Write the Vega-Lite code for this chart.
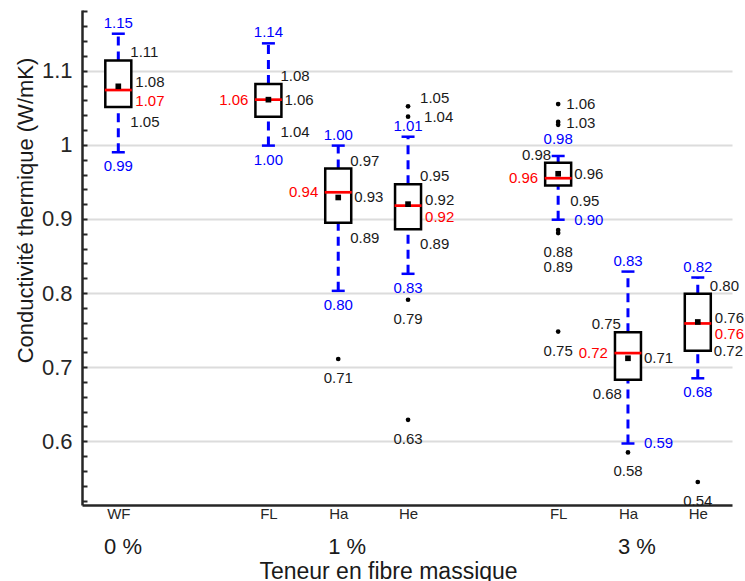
{
  "$schema": "https://vega.github.io/schema/vega-lite/v6.json",
  "width": 650,
  "height": 495,
  "autosize": {"type": "none"},
  "padding": {"left": 82, "top": 10, "right": 13, "bottom": 76},
  "background": "white",
  "config": {"font": "Liberation Sans", "view": {"stroke": null}},
  "datasets": {
    "boxes": [
      {"g": "WF", "pos": 1, "wmin": 0.990, "q1": 1.051, "med": 1.074, "mean": 1.079, "q3": 1.114, "wmax": 1.150},
      {"g": "FL 1%", "pos": 3.15, "wmin": 0.999, "q1": 1.038, "med": 1.061, "mean": 1.061, "q3": 1.082, "wmax": 1.137},
      {"g": "Ha 1%", "pos": 4.15, "wmin": 0.803, "q1": 0.895, "med": 0.936, "mean": 0.929, "q3": 0.968, "wmax": 0.999},
      {"g": "He 1%", "pos": 5.15, "wmin": 0.826, "q1": 0.886, "med": 0.918, "mean": 0.920, "q3": 0.947, "wmax": 1.011},
      {"g": "FL 3%", "pos": 7.3, "wmin": 0.899, "q1": 0.945, "med": 0.955, "mean": 0.961, "q3": 0.976, "wmax": 0.985},
      {"g": "Ha 3%", "pos": 8.3, "wmin": 0.597, "q1": 0.683, "med": 0.719, "mean": 0.712, "q3": 0.747, "wmax": 0.829},
      {"g": "He 3%", "pos": 9.3, "wmin": 0.685, "q1": 0.722, "med": 0.759, "mean": 0.761, "q3": 0.799, "wmax": 0.821}
    ],
    "outliers": [
      {"pos": 4.15, "v": 0.711},
      {"pos": 5.15, "v": 1.052},
      {"pos": 5.15, "v": 1.038},
      {"pos": 5.15, "v": 0.791},
      {"pos": 5.15, "v": 0.629},
      {"pos": 7.3, "v": 1.055},
      {"pos": 7.3, "v": 1.031},
      {"pos": 7.3, "v": 1.027},
      {"pos": 7.3, "v": 0.885},
      {"pos": 7.3, "v": 0.881},
      {"pos": 7.3, "v": 0.748},
      {"pos": 8.3, "v": 0.585},
      {"pos": 9.3, "v": 0.545}
    ],
    "labels": [
      {"pos": 1, "v": 1.150, "t": "1.15", "kind": "whisker", "place": "above"},
      {"pos": 1, "v": 1.114, "t": "1.11", "kind": "stat", "place": "rup"},
      {"pos": 1, "v": 1.079, "t": "1.08", "kind": "stat", "place": "rmidup"},
      {"pos": 1, "v": 1.074, "t": "1.07", "kind": "median", "place": "rdown"},
      {"pos": 1, "v": 1.051, "t": "1.05", "kind": "stat", "place": "rlow"},
      {"pos": 1, "v": 0.990, "t": "0.99", "kind": "whisker", "place": "below"},

      {"pos": 3.15, "v": 1.137, "t": "1.14", "kind": "whisker", "place": "above"},
      {"pos": 3.15, "v": 1.082, "t": "1.08", "kind": "stat", "place": "rup"},
      {"pos": 3.15, "v": 1.061, "t": "1.06", "kind": "stat", "place": "right"},
      {"pos": 3.15, "v": 1.061, "t": "1.06", "kind": "median", "place": "left"},
      {"pos": 3.15, "v": 1.038, "t": "1.04", "kind": "stat", "place": "rlow"},
      {"pos": 3.15, "v": 0.999, "t": "1.00", "kind": "whisker", "place": "below"},

      {"pos": 4.15, "v": 0.999, "t": "1.00", "kind": "whisker", "place": "above"},
      {"pos": 4.15, "v": 0.968, "t": "0.97", "kind": "stat", "place": "rup"},
      {"pos": 4.15, "v": 0.929, "t": "0.93", "kind": "stat", "place": "right"},
      {"pos": 4.15, "v": 0.936, "t": "0.94", "kind": "median", "place": "left"},
      {"pos": 4.15, "v": 0.895, "t": "0.89", "kind": "stat", "place": "rlow"},
      {"pos": 4.15, "v": 0.803, "t": "0.80", "kind": "whisker", "place": "below"},
      {"pos": 4.15, "v": 0.711, "t": "0.71", "kind": "stat", "place": "under"},

      {"pos": 5.15, "v": 1.052, "t": "1.05", "kind": "stat", "place": "rup"},
      {"pos": 5.15, "v": 1.038, "t": "1.04", "kind": "stat", "place": "right"},
      {"pos": 5.15, "v": 1.011, "t": "1.01", "kind": "whisker", "place": "above"},
      {"pos": 5.15, "v": 0.947, "t": "0.95", "kind": "stat", "place": "rup"},
      {"pos": 5.15, "v": 0.920, "t": "0.92", "kind": "stat", "place": "rmidup"},
      {"pos": 5.15, "v": 0.918, "t": "0.92", "kind": "median", "place": "rdown"},
      {"pos": 5.15, "v": 0.886, "t": "0.89", "kind": "stat", "place": "rlow"},
      {"pos": 5.15, "v": 0.826, "t": "0.83", "kind": "whisker", "place": "below"},
      {"pos": 5.15, "v": 0.791, "t": "0.79", "kind": "stat", "place": "under"},
      {"pos": 5.15, "v": 0.629, "t": "0.63", "kind": "stat", "place": "under"},

      {"pos": 7.3, "v": 1.055, "t": "1.06", "kind": "stat", "place": "oright"},
      {"pos": 7.3, "v": 1.029, "t": "1.03", "kind": "stat", "place": "oright"},
      {"pos": 7.3, "v": 0.985, "t": "0.98", "kind": "whisker", "place": "above2"},
      {"pos": 7.3, "v": 0.976, "t": "0.98", "kind": "stat", "place": "lup"},
      {"pos": 7.3, "v": 0.961, "t": "0.96", "kind": "stat", "place": "right"},
      {"pos": 7.3, "v": 0.955, "t": "0.96", "kind": "median", "place": "left"},
      {"pos": 7.3, "v": 0.945, "t": "0.95", "kind": "stat", "place": "rlow"},
      {"pos": 7.3, "v": 0.899, "t": "0.90", "kind": "whisker", "place": "right"},
      {"pos": 7.3, "v": 0.881, "t": "0.88", "kind": "stat", "place": "under"},
      {"pos": 7.3, "v": 0.885, "t": "0.89", "kind": "stat", "place": "under2"},
      {"pos": 7.3, "v": 0.748, "t": "0.75", "kind": "stat", "place": "under"},

      {"pos": 8.3, "v": 0.829, "t": "0.83", "kind": "whisker", "place": "above"},
      {"pos": 8.3, "v": 0.747, "t": "0.75", "kind": "stat", "place": "lup"},
      {"pos": 8.3, "v": 0.712, "t": "0.71", "kind": "stat", "place": "right"},
      {"pos": 8.3, "v": 0.719, "t": "0.72", "kind": "median", "place": "left"},
      {"pos": 8.3, "v": 0.683, "t": "0.68", "kind": "stat", "place": "llow"},
      {"pos": 8.3, "v": 0.597, "t": "0.59", "kind": "whisker", "place": "right"},
      {"pos": 8.3, "v": 0.585, "t": "0.58", "kind": "stat", "place": "under"},

      {"pos": 9.3, "v": 0.821, "t": "0.82", "kind": "whisker", "place": "above"},
      {"pos": 9.3, "v": 0.799, "t": "0.80", "kind": "stat", "place": "rup"},
      {"pos": 9.3, "v": 0.761, "t": "0.76", "kind": "stat", "place": "rmidup"},
      {"pos": 9.3, "v": 0.759, "t": "0.76", "kind": "median", "place": "rdown"},
      {"pos": 9.3, "v": 0.722, "t": "0.72", "kind": "stat", "place": "right"},
      {"pos": 9.3, "v": 0.685, "t": "0.68", "kind": "whisker", "place": "below"},
      {"pos": 9.3, "v": 0.545, "t": "0.54", "kind": "stat", "place": "under"}
    ]
  },
  "encoding": {
    "x": {"field": "pos", "type": "quantitative", "scale": {"domain": [0.48, 9.79], "nice": false, "zero": false, "padding": 0}, "axis": null}
  },
  "resolve": {"axis": {"x": "independent"}},
  "layer": [
    {
      "data": {"name": "boxes"},
      "mark": {"type": "rule", "color": "#0000ff", "strokeWidth": 3, "strokeDash": [9, 6], "opacity": 1},
      "encoding": {
        "y": {
          "field": "q3", "type": "quantitative",
          "title": "Conductivité thermique (W/mK)",
          "scale": {"domain": [0.514, 1.182], "nice": false, "zero": false, "padding": 0},
          "axis": {
            "values": [0.52,0.54,0.56,0.58,0.6,0.62,0.64,0.66,0.68,0.7,0.72,0.74,0.76,0.78,0.8,0.82,0.84,0.86,0.88,0.9,0.92,0.94,0.96,0.98,1,1.02,1.04,1.06,1.08,1.1,1.12,1.14,1.16,1.18],
            "tickCount": 100,
            "labelOverlap": false,
            "labelExpr": "abs(datum.value*10 - round(datum.value*10)) < 0.001 ? format(datum.value, '~g') : ''",
            "grid": true,
            "gridColor": "#dcdcdc",
            "gridWidth": 2,
            "gridOpacity": {"condition": {"test": "abs(datum.value*10 - round(datum.value*10)) < 0.001", "value": 1}, "value": 0},
            "tickSize": -5,
            "tickWidth": 2,
            "tickColor": "#262626",
            "domainColor": "#262626",
            "domainWidth": 2.5,
            "labelFontSize": 22,
            "labelColor": "#262626",
            "labelPadding": 15,
            "titleFontSize": 22,
            "titleFontWeight": "normal",
            "titleColor": "#1a1a1a",
            "titleY": 200
          }
        },
        "y2": {"field": "wmax"}
      }
    },
    {
      "data": {"name": "boxes"},
      "mark": {"type": "rule", "color": "#0000ff", "strokeWidth": 3, "strokeDash": [9, 6], "opacity": 1},
      "encoding": {
        "y": {"field": "wmin", "type": "quantitative", "title": "Conductivité thermique (W/mK)"},
        "y2": {"field": "q1"}
      }
    },
    {
      "data": {"name": "boxes"},
      "mark": {"type": "tick", "orient": "horizontal", "color": "#0000ff", "size": 13, "thickness": 2.5, "opacity": 1},
      "encoding": {"y": {"field": "wmax", "type": "quantitative", "title": "Conductivité thermique (W/mK)"}}
    },
    {
      "data": {"name": "boxes"},
      "mark": {"type": "tick", "orient": "horizontal", "color": "#0000ff", "size": 13, "thickness": 2.5, "opacity": 1},
      "encoding": {"y": {"field": "wmin", "type": "quantitative", "title": "Conductivité thermique (W/mK)"}}
    },
    {
      "data": {"name": "boxes"},
      "mark": {"type": "bar", "size": 26, "fill": "white", "stroke": "black", "strokeWidth": 2.5, "opacity": 1},
      "encoding": {
        "x": {
          "field": "pos", "type": "quantitative",
          "scale": {"domain": [0.48, 9.79], "nice": false, "zero": false, "padding": 0},
          "axis": {
            "orient": "bottom",
            "values": [1, 3.15, 4.15, 5.15, 7.3, 8.3, 9.3],
            "tickCount": 20,
            "labelOverlap": false,
            "labelExpr": "datum.value < 2 ? 'WF' : datum.value < 3.5 ? 'FL' : datum.value < 4.5 ? 'Ha' : datum.value < 6 ? 'He' : datum.value < 7.5 ? 'FL' : datum.value < 8.5 ? 'Ha' : 'He'",
            "ticks": false,
            "grid": false,
            "domainColor": "#262626",
            "domainWidth": 2.5,
            "labelFontSize": 15,
            "labelColor": "#262626",
            "labelPadding": 1,
            "title": null
          }
        },
        "y": {"field": "q1", "type": "quantitative", "title": "Conductivité thermique (W/mK)"},
        "y2": {"field": "q3"}
      }
    },
    {
      "data": {"name": "boxes"},
      "mark": {"type": "tick", "orient": "horizontal", "color": "#ff0000", "size": 27, "thickness": 2.7, "opacity": 1},
      "encoding": {"y": {"field": "med", "type": "quantitative", "title": "Conductivité thermique (W/mK)"}}
    },
    {
      "data": {"name": "boxes"},
      "mark": {"type": "point", "shape": "square", "filled": true, "color": "black", "size": 32, "opacity": 1},
      "encoding": {
        "x": {
          "field": "pos", "type": "quantitative",
          "scale": {"domain": [0.48, 9.79], "nice": false, "zero": false, "padding": 0},
          "axis": {
            "orient": "bottom",
            "values": [1.06, 4.27, 8.42],
            "labelOverlap": false,
            "labelExpr": "datum.value < 2 ? '0 %' : datum.value < 6 ? '1 %' : '3 %'",
            "ticks": false,
            "domain": false,
            "grid": false,
            "labelFontSize": 22,
            "labelColor": "#1a1a1a",
            "labelPadding": 31,
            "title": "Teneur en fibre massique",
            "titleFontSize": 23,
            "titleFontWeight": "normal",
            "titleColor": "#1a1a1a",
            "titlePadding": 3,
            "titleX": 306
          }
        },
        "y": {"field": "mean", "type": "quantitative", "title": "Conductivité thermique (W/mK)"}
      }
    },
    {
      "data": {"name": "outliers"},
      "mark": {"type": "circle", "color": "black", "size": 22, "opacity": 1},
      "encoding": {"y": {"field": "v", "type": "quantitative", "title": "Conductivité thermique (W/mK)"}}
    },
    {
      "data": {"name": "labels"},
      "transform": [{"filter": "datum.place === 'above'"}],
      "mark": {"type": "text", "align": "center", "baseline": "middle", "dy": -11, "fontSize": 15},
      "encoding": {"y": {"field": "v", "type": "quantitative", "title": "Conductivité thermique (W/mK)"}, "text": {"field": "t"}, "color": {"field": "kind", "type": "nominal", "scale": {"domain": ["stat", "median", "whisker"], "range": ["#1a1a1a", "#ff0000", "#0000ff"]}, "legend": null}}
    },
    {
      "data": {"name": "labels"},
      "transform": [{"filter": "datum.place === 'above2'"}],
      "mark": {"type": "text", "align": "center", "baseline": "middle", "dy": -17, "fontSize": 15},
      "encoding": {"y": {"field": "v", "type": "quantitative", "title": "Conductivité thermique (W/mK)"}, "text": {"field": "t"}, "color": {"field": "kind", "type": "nominal", "legend": null}}
    },
    {
      "data": {"name": "labels"},
      "transform": [{"filter": "datum.place === 'below'"}],
      "mark": {"type": "text", "align": "center", "baseline": "middle", "dy": 14, "fontSize": 15},
      "encoding": {"y": {"field": "v", "type": "quantitative", "title": "Conductivité thermique (W/mK)"}, "text": {"field": "t"}, "color": {"field": "kind", "type": "nominal", "legend": null}}
    },
    {
      "data": {"name": "labels"},
      "transform": [{"filter": "datum.place === 'under'"}],
      "mark": {"type": "text", "align": "center", "baseline": "middle", "dy": 19, "fontSize": 15},
      "encoding": {"y": {"field": "v", "type": "quantitative", "title": "Conductivité thermique (W/mK)"}, "text": {"field": "t"}, "color": {"field": "kind", "type": "nominal", "legend": null}}
    },
    {
      "data": {"name": "labels"},
      "transform": [{"filter": "datum.place === 'under2'"}],
      "mark": {"type": "text", "align": "center", "baseline": "middle", "dy": 37, "fontSize": 15},
      "encoding": {"y": {"field": "v", "type": "quantitative", "title": "Conductivité thermique (W/mK)"}, "text": {"field": "t"}, "color": {"field": "kind", "type": "nominal", "legend": null}}
    },
    {
      "data": {"name": "labels"},
      "transform": [{"filter": "datum.place === 'rup'"}],
      "mark": {"type": "text", "align": "left", "baseline": "middle", "dx": 12, "dy": -8, "fontSize": 15},
      "encoding": {"y": {"field": "v", "type": "quantitative", "title": "Conductivité thermique (W/mK)"}, "text": {"field": "t"}, "color": {"field": "kind", "type": "nominal", "legend": null}}
    },
    {
      "data": {"name": "labels"},
      "transform": [{"filter": "datum.place === 'right'"}],
      "mark": {"type": "text", "align": "left", "baseline": "middle", "dx": 16, "dy": 0, "fontSize": 15},
      "encoding": {"y": {"field": "v", "type": "quantitative", "title": "Conductivité thermique (W/mK)"}, "text": {"field": "t"}, "color": {"field": "kind", "type": "nominal", "legend": null}}
    },
    {
      "data": {"name": "labels"},
      "transform": [{"filter": "datum.place === 'rmidup'"}],
      "mark": {"type": "text", "align": "left", "baseline": "middle", "dx": 17, "dy": -4, "fontSize": 15},
      "encoding": {"y": {"field": "v", "type": "quantitative", "title": "Conductivité thermique (W/mK)"}, "text": {"field": "t"}, "color": {"field": "kind", "type": "nominal", "legend": null}}
    },
    {
      "data": {"name": "labels"},
      "transform": [{"filter": "datum.place === 'oright'"}],
      "mark": {"type": "text", "align": "left", "baseline": "middle", "dx": 8, "dy": 0, "fontSize": 15},
      "encoding": {"y": {"field": "v", "type": "quantitative", "title": "Conductivité thermique (W/mK)"}, "text": {"field": "t"}, "color": {"field": "kind", "type": "nominal", "legend": null}}
    },
    {
      "data": {"name": "labels"},
      "transform": [{"filter": "datum.place === 'rdown'"}],
      "mark": {"type": "text", "align": "left", "baseline": "middle", "dx": 17, "dy": 11, "fontSize": 15},
      "encoding": {"y": {"field": "v", "type": "quantitative", "title": "Conductivité thermique (W/mK)"}, "text": {"field": "t"}, "color": {"field": "kind", "type": "nominal", "legend": null}}
    },
    {
      "data": {"name": "labels"},
      "transform": [{"filter": "datum.place === 'rlow'"}],
      "mark": {"type": "text", "align": "left", "baseline": "middle", "dx": 12, "dy": 15, "fontSize": 15},
      "encoding": {"y": {"field": "v", "type": "quantitative", "title": "Conductivité thermique (W/mK)"}, "text": {"field": "t"}, "color": {"field": "kind", "type": "nominal", "legend": null}}
    },
    {
      "data": {"name": "labels"},
      "transform": [{"filter": "datum.place === 'left'"}],
      "mark": {"type": "text", "align": "right", "baseline": "middle", "dx": -20, "dy": 0, "fontSize": 15},
      "encoding": {"y": {"field": "v", "type": "quantitative", "title": "Conductivité thermique (W/mK)"}, "text": {"field": "t"}, "color": {"field": "kind", "type": "nominal", "legend": null}}
    },
    {
      "data": {"name": "labels"},
      "transform": [{"filter": "datum.place === 'lup'"}],
      "mark": {"type": "text", "align": "right", "baseline": "middle", "dx": -7, "dy": -8, "fontSize": 15},
      "encoding": {"y": {"field": "v", "type": "quantitative", "title": "Conductivité thermique (W/mK)"}, "text": {"field": "t"}, "color": {"field": "kind", "type": "nominal", "legend": null}}
    },
    {
      "data": {"name": "labels"},
      "transform": [{"filter": "datum.place === 'llow'"}],
      "mark": {"type": "text", "align": "right", "baseline": "middle", "dx": -6, "dy": 14, "fontSize": 15},
      "encoding": {"y": {"field": "v", "type": "quantitative", "title": "Conductivité thermique (W/mK)"}, "text": {"field": "t"}, "color": {"field": "kind", "type": "nominal", "legend": null}}
    }
  ]
}
